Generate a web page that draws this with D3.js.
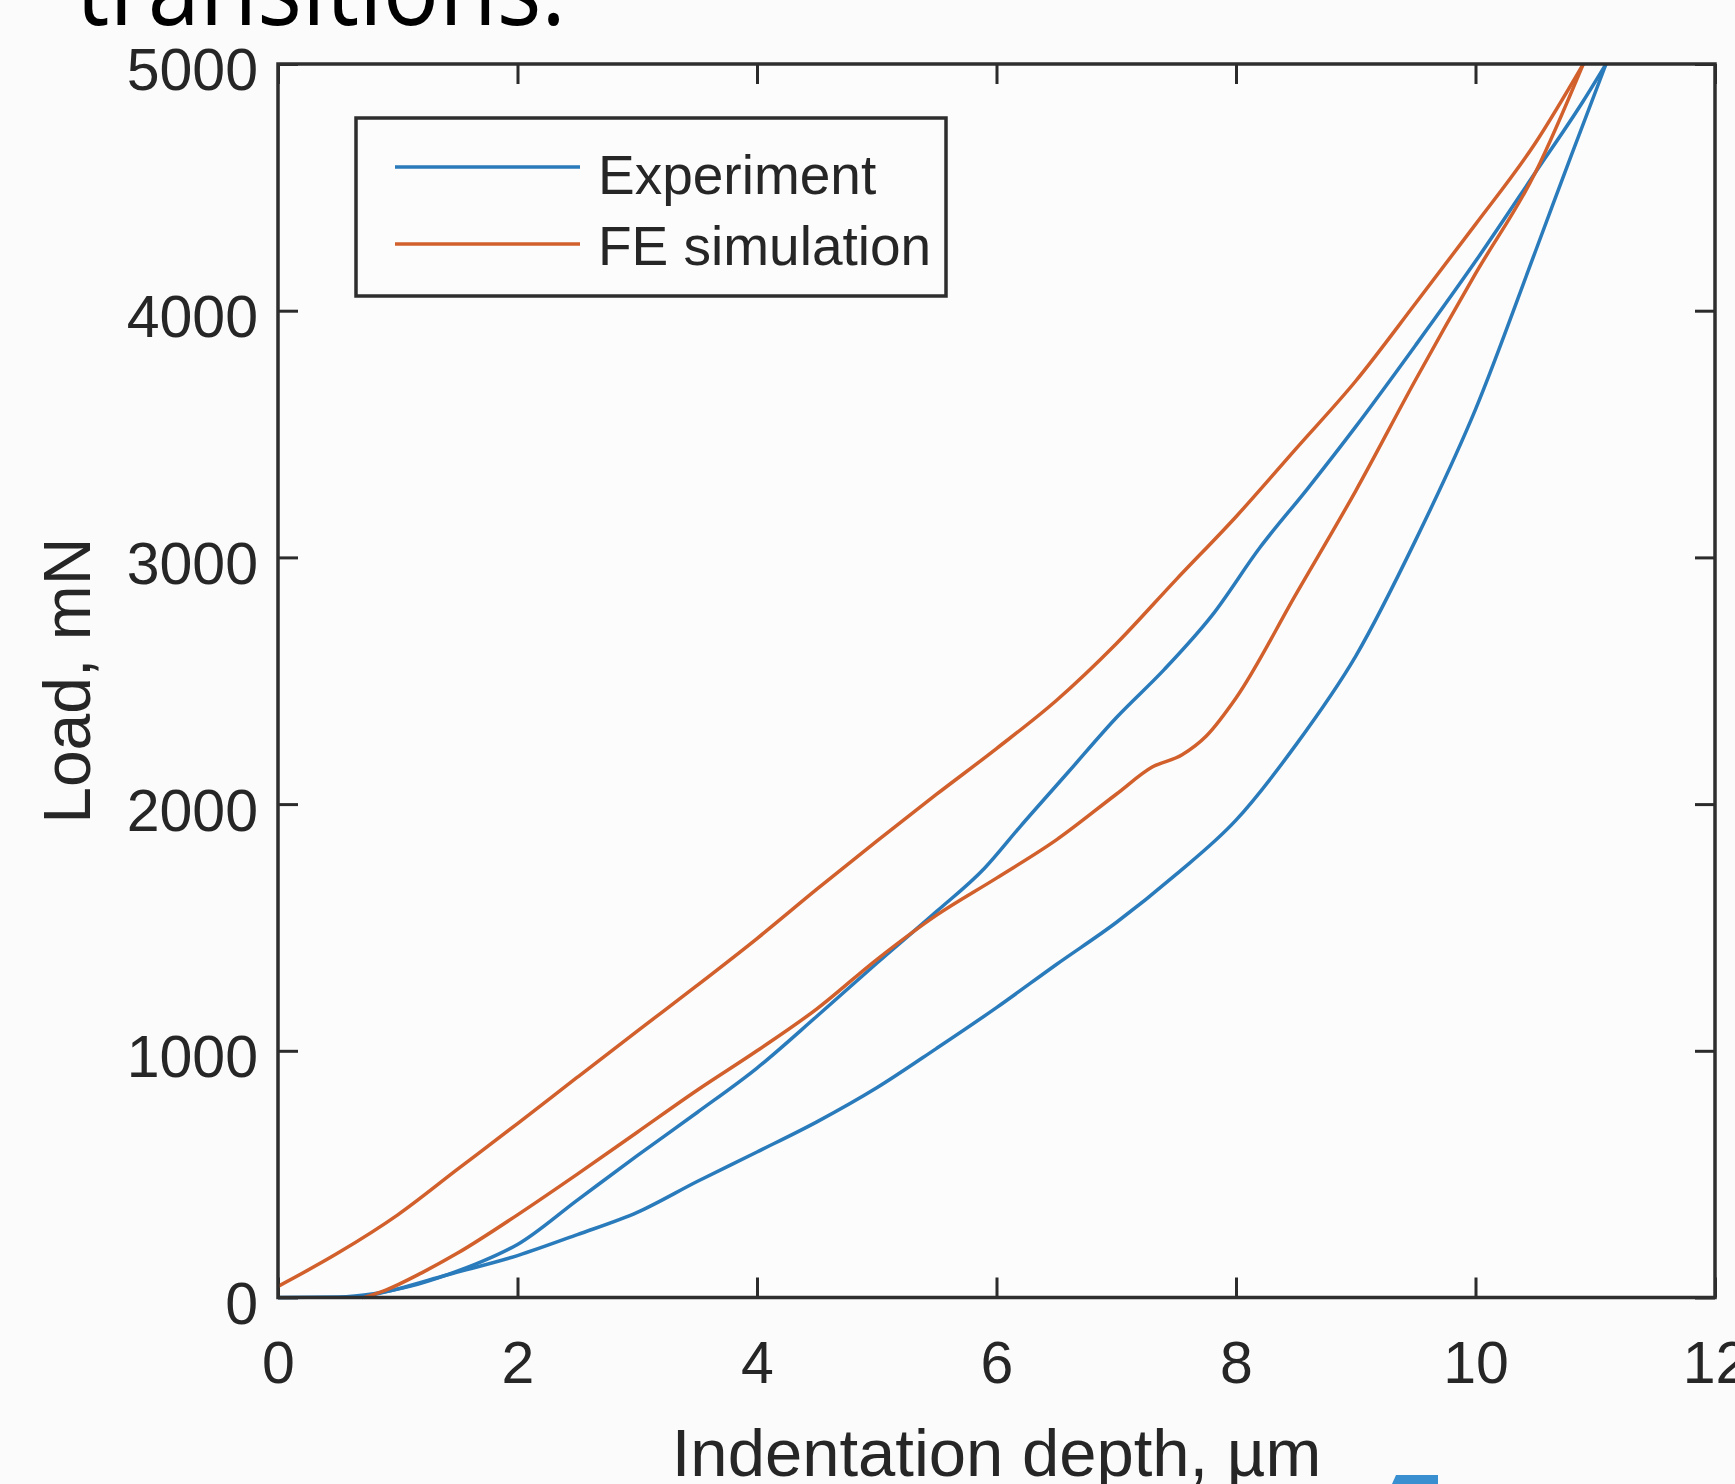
<!DOCTYPE html>
<html lang="en">
<head>
<meta charset="utf-8">
<title>Load vs indentation depth</title>
<script src="https://d3js.org/d3.v7.min.js"></script>
<style type="text/css">
  body { margin: 0; background-color: #fbfbfb; }
  svg { display: block; background-color: #fbfbfb; }
  .tick text { font-family: "Liberation Sans", Arial, sans-serif; fill: #262626; }
</style>
</head>
<body>
<script type="text/javascript">

// tick values
var xTicks = [0, 2, 4, 6, 8, 10, 12];
var yTicks = [0, 1000, 2000, 3000, 4000, 5000];

// series names
var seriesNames = ["Experiment", "FE simulation"];

// Experiment, loading branch [depth um, load mN]
var expLoading = [
  [0, 0], [0.5, 2], [0.8, 15], [1.1, 45], [1.4, 90], [1.7, 145], [2.0, 215],
  [2.5, 395], [3.0, 575], [3.5, 750], [4.0, 930], [4.5, 1140], [5.0, 1355],
  [5.5, 1565], [5.9, 1740], [6.2, 1910], [6.6, 2130], [7.0, 2350],
  [7.4, 2545], [7.8, 2765], [8.2, 3040], [8.6, 3280], [9.0, 3530],
  [9.5, 3860], [10.0, 4200], [10.5, 4560], [10.9, 4850], [11.09, 5000]
];

// Experiment, unloading branch
var expUnloading = [
  [11.09, 5000], [10.8, 4630], [10.5, 4240], [10.0, 3600], [9.5, 3070],
  [9.0, 2600], [8.5, 2240], [8.0, 1935], [7.5, 1715], [7.0, 1520],
  [6.5, 1350], [6.0, 1175], [5.5, 1010], [5.0, 850], [4.5, 712], [4.0, 590],
  [3.5, 470], [3.0, 345], [2.5, 255], [2.0, 170], [1.4, 90], [1.0, 35],
  [0.7, 0]
];

// FE simulation, loading branch
var feLoading = [
  [0, 45], [0.5, 180], [1.0, 335], [1.5, 520], [2.0, 705], [2.5, 893],
  [3.0, 1080], [3.5, 1265], [4.0, 1455], [4.5, 1655], [5.0, 1850],
  [5.5, 2040], [6.0, 2225], [6.5, 2420], [7.0, 2650], [7.5, 2910],
  [8.0, 3165], [8.5, 3440], [9.0, 3715], [9.5, 4030], [10.0, 4350],
  [10.5, 4680], [10.9, 5000]
];

// FE simulation, unloading branch
var feUnloading = [
  [10.9, 5000], [10.5, 4560], [10.0, 4150], [9.5, 3720], [9.0, 3270],
  [8.5, 2850], [8.0, 2430], [7.75, 2275], [7.55, 2200], [7.3, 2150],
  [7.0, 2040], [6.5, 1855], [6.0, 1700], [5.5, 1550], [5.0, 1370],
  [4.5, 1170], [4.0, 1000], [3.5, 840], [3.0, 670], [2.5, 500], [2.0, 335],
  [1.5, 180], [1.2, 100], [0.9, 30], [0.72, 0]
];

var colors = ["#2a7bbb", "#d2602c"];

//Width and height
var w = 1735;
var h = 1484;
var plotL = 278, plotR = 1715, plotT = 64, plotB = 1297.5;

var svg = d3.select("body")
            .append("svg")
            .attr("width", w)
            .attr("height", h);

// slide text above the chart (cut off at the top)
svg.append("text")
   .attr("x", 76)
   .attr("y", 25)
   .attr("textLength", 490)
   .attr("lengthAdjust", "spacingAndGlyphs")
   .style("font-family", "'Open Sans', 'Noto Sans', sans-serif")
   .style("font-size", "104px")
   .style("fill", "#000")
   .text("transitions.");

var x = d3.scaleLinear().domain([0, 12]).range([plotL, plotR]);
var y = d3.scaleLinear().domain([0, 5000]).range([plotB, plotT]);

// plot background
svg.append("rect")
   .attr("x", plotL).attr("y", plotT)
   .attr("width", plotR - plotL).attr("height", plotB - plotT)
   .style("fill", "#fcfcfc");

// axes, ticks pointing inward
var xAxis = d3.axisBottom(x).tickValues(xTicks).tickSize(-20).tickPadding(44);
var yAxis = d3.axisLeft(y).tickValues(yTicks).tickSize(-20).tickPadding(20)
              .tickFormat(d3.format("d"));

var gx = svg.append("g").attr("transform", "translate(0," + plotB + ")").call(xAxis);
var gy = svg.append("g").attr("transform", "translate(" + plotL + ",0)").call(yAxis);
var gx2 = svg.append("g").attr("transform", "translate(0," + plotT + ")")
             .call(d3.axisTop(x).tickValues(xTicks).tickSize(-20).tickFormat(""));
var gy2 = svg.append("g").attr("transform", "translate(" + plotR + ",0)")
             .call(d3.axisRight(y).tickValues(yTicks).tickSize(-20).tickFormat(""));

[gx, gy, gx2, gy2].forEach(function(g) {
    g.select(".domain").remove();
    g.selectAll(".tick line").style("stroke", "#2b2b2b").style("stroke-width", 3);
});
gx.selectAll(".tick text").style("font-size", "59px");
gy.selectAll(".tick text").style("font-size", "59px").attr("dy", "0.44em");

// lines
var line = d3.line()
             .x(function(d) { return x(d[0]); })
             .y(function(d) { return y(d[1]); })
             .curve(d3.curveMonotoneX);

var branches = [
    { data: expLoading, c: colors[0] },
    { data: expUnloading, c: colors[0] },
    { data: feLoading, c: colors[1] },
    { data: feUnloading, c: colors[1] }
];

svg.append("g").selectAll("path")
   .data(branches)
   .enter()
   .append("path")
   .attr("d", function(d) { return line(d.data.slice().sort(function(a, b) { return a[0] - b[0]; })); })
   .style("fill", "none")
   .style("stroke", function(d) { return d.c; })
   .style("stroke-width", 3.5);

// box
svg.append("rect")
   .attr("x", plotL).attr("y", plotT)
   .attr("width", plotR - plotL).attr("height", plotB - plotT)
   .style("fill", "none")
   .style("stroke", "#2e2e2e")
   .style("stroke-width", 3.5);

// axis labels
svg.append("text")
   .attr("x", (plotL + plotR) / 2)
   .attr("y", 1476)
   .attr("text-anchor", "middle")
   .style("font-family", "'Liberation Sans', Arial, sans-serif")
   .style("font-size", "67px")
   .style("fill", "#262626")
   .text("Indentation depth, µm");

svg.append("text")
   .attr("transform", "translate(90," + ((plotT + plotB) / 2) + ") rotate(-90)")
   .attr("text-anchor", "middle")
   .style("font-family", "'Liberation Sans', Arial, sans-serif")
   .style("font-size", "66px")
   .style("fill", "#262626")
   .text("Load, mN");

// legend
var legend = svg.append("g");
legend.append("rect")
      .attr("x", 356).attr("y", 118)
      .attr("width", 590).attr("height", 178)
      .style("fill", "#fcfcfc")
      .style("stroke", "#2e2e2e")
      .style("stroke-width", 3.5);

var legendRows = [167, 244];
var legendBase = [194, 265];
seriesNames.forEach(function(name, i) {
    legend.append("line")
          .attr("x1", 395).attr("x2", 580)
          .attr("y1", legendRows[i]).attr("y2", legendRows[i])
          .style("stroke", colors[i])
          .style("stroke-width", 3.5);
    legend.append("text")
          .attr("x", 598)
          .attr("y", legendBase[i])
          .style("font-family", "'Liberation Sans', Arial, sans-serif")
          .style("font-size", "55px")
          .style("fill", "#262626")
          .text(name);
});

// small blue mark at the bottom edge of the slide
svg.append("path")
   .attr("d", "M1392,1484 L1396,1475 L1438,1475 L1438,1484 Z")
   .style("fill", "#3a8fd0");

</script>
</body>
</html>
